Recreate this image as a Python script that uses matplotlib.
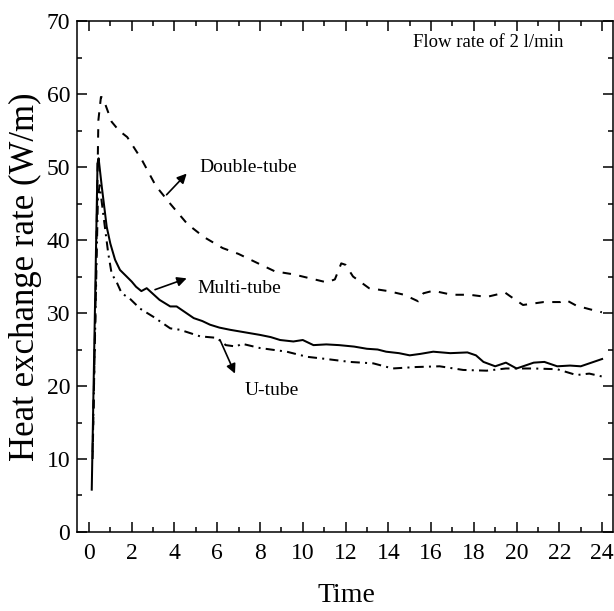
import matplotlib
matplotlib.use("Agg")
import matplotlib.pyplot as plt
from matplotlib.ticker import MultipleLocator

plt.rcParams["font.family"] = ["Liberation Serif", "DejaVu Serif"]

# Heat exchange rate over time, flow rate 2 l/min
double_t = [0.17, 0.3, 0.44, 0.56, 0.65, 1.06, 1.4, 1.79, 2.46, 3.13, 3.82, 4.6,
            5.38, 6.25, 6.99, 7.84, 8.7, 9.56, 10.34, 11.12, 11.5, 11.8, 12.0,
            12.35, 13.1, 14.0, 14.74, 15.4, 15.64, 16.1, 16.97, 17.8, 18.6,
            19.46, 19.7, 20.3, 21.26, 22.04, 22.3, 22.8, 23.44, 23.99]
double_q = [10.0, 30.0, 56.4, 59.6, 59.5, 56.2, 55.0, 54.1, 51.05, 47.4, 44.9, 42.2,
            40.4, 38.9, 38.1, 36.9, 35.7, 35.3, 34.75, 34.2, 34.6, 36.8, 36.6,
            35.0, 33.4, 33.0, 32.5, 31.6, 32.7, 33.05, 32.5, 32.5, 32.2,
            32.8, 32.3, 31.1, 31.5, 31.5, 31.8, 31.0, 30.5, 30.1]

multi_t = [0.13, 0.4, 0.45, 0.6, 0.83, 1.0, 1.22, 1.45, 1.76, 2.0, 2.2, 2.45, 2.7,
           3.0, 3.3, 3.8, 4.1, 4.5, 4.9, 5.3, 5.66, 6.1, 6.6, 7.2, 7.6, 8.0, 8.5,
           8.94, 9.56, 10.0, 10.5, 11.1, 11.7, 12.4, 13.0, 13.5, 13.9, 14.5,
           15.0, 15.5, 16.1, 16.9, 17.7, 18.1, 18.45, 19.0, 19.5, 20.0, 20.4,
           20.8, 21.3, 21.9, 22.5, 23.0, 23.6, 24.0]
multi_q = [5.8, 50.5, 51.2, 47.3, 41.8, 39.5, 37.3, 35.9, 35.0, 34.3, 33.6, 33.0, 33.4,
           32.6, 31.8, 30.9, 30.9, 30.1, 29.3, 28.9, 28.4, 28.0, 27.7, 27.4, 27.2,
           27.0, 26.7, 26.3, 26.1, 26.3, 25.6, 25.7, 25.6, 25.4, 25.1, 25.0,
           24.7, 24.5, 24.2, 24.4, 24.7, 24.5, 24.6, 24.2, 23.3, 22.7, 23.2,
           22.4, 22.8, 23.2, 23.3, 22.7, 22.8, 22.7, 23.3, 23.7]

u_t = [0.17, 0.42, 0.5, 0.67, 0.9, 1.06, 1.3, 1.53, 1.9, 2.39, 3.0, 3.8, 4.26, 5.2,
       5.97, 6.4, 6.9, 7.14, 8.0, 9.25, 10.2, 11.1, 12.2, 13.3, 14.2, 15.3,
       16.4, 17.5, 18.6, 19.5, 20.8, 21.9, 22.8, 23.4, 24.0]
u_q = [11.0, 46.0, 47.5, 43.5, 38.2, 35.4, 34.2, 32.7, 32.0, 30.6, 29.5, 27.9, 27.7, 26.8,
       26.6, 25.6, 25.4, 25.8, 25.2, 24.7, 24.0, 23.7, 23.3, 23.1, 22.4, 22.6,
       22.7, 22.2, 22.1, 22.4, 22.4, 22.3, 21.5, 21.7, 21.3]

x_ticks = list(range(0, 25, 2))
y_ticks = list(range(0, 71, 10))

fig = plt.figure(figsize=(6.14, 6.11), dpi=100)
ax = fig.add_axes([0.1254, 0.1293, 0.873, 0.8363])

lw = 1.45
ax.plot(double_t, double_q, color="black", lw=lw, dashes=(4.2, 4.2))
ax.plot(multi_t, multi_q, color="black", lw=lw, linestyle="-")
ax.plot(u_t, u_q, color="black", lw=lw, dashes=(4.5, 2.6, 1.0, 2.6))

ax.set_xlim(-0.56, 24.51)
ax.set_ylim(0, 70)
ax.set_xticks(x_ticks)
ax.set_yticks(y_ticks)
ax.xaxis.set_minor_locator(MultipleLocator(1))
ax.yaxis.set_minor_locator(MultipleLocator(5))
ax.tick_params(which="both", direction="in", top=True, right=True, width=1.1,
               labelsize=17)
ax.tick_params(which="major", length=7)
ax.tick_params(which="minor", length=3.5)
ax.tick_params(axis="x", pad=8)
ax.tick_params(axis="y", pad=5)
for s in ax.spines.values():
    s.set_linewidth(1.1)

ax.set_xlabel("Time", fontsize=20)
ax.set_ylabel("Heat exchange rate (W/m)", fontsize=25)
ax.xaxis.set_label_coords(0.503, -0.1)
ax.yaxis.set_label_coords(-0.066, 0.5)

arrow = dict(arrowstyle="-|>", color="black", lw=1.2, mutation_scale=14,
             shrinkA=0, shrinkB=0)
ax.annotate("", xy=(4.57, 49.1), xytext=(3.63, 46.2), arrowprops=arrow)
ax.annotate("", xy=(4.57, 34.75), xytext=(3.09, 33.2), arrowprops=arrow)
ax.annotate("", xy=(6.83, 21.7), xytext=(6.13, 26.3), arrowprops=arrow)

ax.text(5.15, 50.0, "Double-tube", fontsize=14, ha="left", va="center")
ax.text(5.07, 33.4, "Multi-tube", fontsize=14, ha="left", va="center")
ax.text(7.3, 19.45, "U-tube", fontsize=14, ha="left", va="center")
ax.text(15.16, 67.0, "Flow rate of 2 l/min", fontsize=13.5, ha="left", va="center")

fig.savefig("out.png", dpi=100)
